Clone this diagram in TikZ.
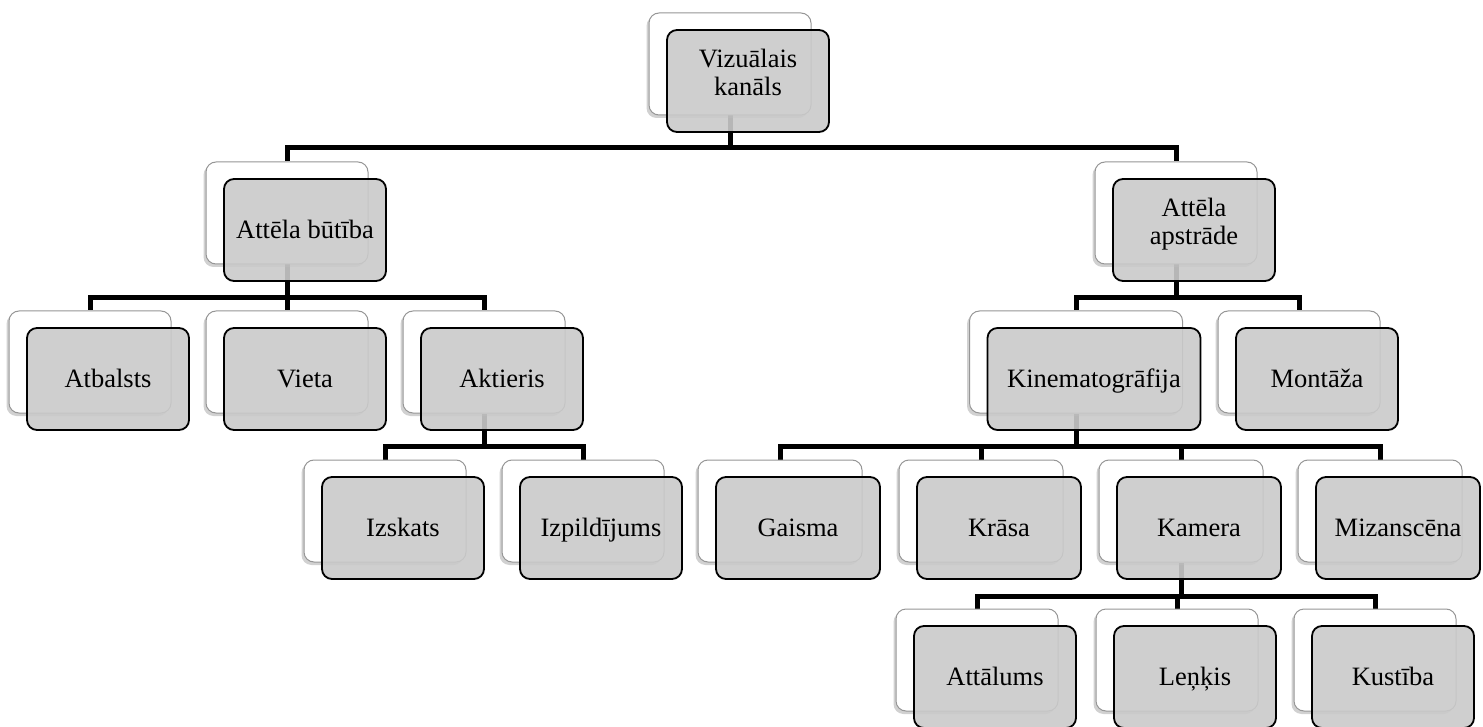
\documentclass[tikz,border=0pt]{standalone}
\usepackage{fontspec}
\setmainfont{Liberation Serif}
\usepackage{xcolor}
\usepackage{tikz}
\usetikzlibrary{calc, shadows, backgrounds}
\definecolor{boxgrey}{RGB}{202, 202, 202}
\definecolor{backline}{RGB}{150, 150, 150}

\begin{document}
\begin{tikzpicture}[
    x=1pt, y=-1pt,
    font=\fontsize{26.5}{28}\selectfont,
    backbox/.style={draw=backline, fill=white, line width=1pt, rounded corners=10pt, minimum height=102pt, inner sep=0pt,
        drop shadow={shadow xshift=-2.5pt, shadow yshift=-3pt, opacity=0.3, fill=black!60}},
    frontbox/.style={draw=black, fill=boxgrey, fill opacity=0.9, text opacity=1, line width=1.8pt, rounded corners=10pt, minimum height=102pt, inner sep=0pt, align=center},
    oneline/.style={text height=20pt, text depth=3pt},
    twoline/.style={text height=29pt, text depth=0pt},
    conn/.style={draw=black, line width=5pt}
]
    \useasboundingbox (0,0) rectangle (1483,727);

    % boxes: name / x / y / width / lines / text
    \foreach \n/\x/\y/\w/\s/\t in {
        viz/730/64/162/twoline/{Vizuālais\\kanāls},
        butiba/287/213/162/oneline/{Attēla būtība},
        apstr/1176/213/162/twoline/{Attēla\\apstrāde},
        atb/90/362/162/oneline/Atbalsts,
        vieta/287/362/162/oneline/Vieta,
        akt/484/362/162/oneline/Aktieris,
        kino/1076/362/213/oneline/Kinematogrāfija,
        mont/1299/362/162/oneline/Montāža,
        izsk/385/511/162/oneline/Izskats,
        izp/583/511/162/oneline/Izpildījums,
        gais/780/511/164/oneline/Gaisma,
        krasa/981/511/164/oneline/Krāsa,
        kam/1181/511/164/oneline/Kamera,
        miz/1380/511/164/oneline/Mizanscēna,
        att/977/660/162/oneline/Attālums,
        lenk/1177/660/162/oneline/Leņķis,
        kust/1375/660/162/oneline/Kustība}
    {
        \node[backbox, minimum width=\w pt] (\n-b) at (\x,\y) {};
        \node[frontbox, \s, minimum width=\w pt] (\n) at ([shift={(18,17)}]\n-b) {\t};
    }

    \begin{scope}[on background layer]
        \draw[conn] (viz-b.south) -- ++(0,32) -| (butiba-b.north);
        \draw[conn] (viz-b.south) -- ++(0,32) -| (apstr-b.north);

        \draw[conn] (butiba-b.south) -- ++(0,33) -| (atb-b.north);
        \draw[conn] (butiba-b.south) -- (vieta-b.north);
        \draw[conn] (butiba-b.south) -- ++(0,33) -| (akt-b.north);

        \draw[conn] (akt-b.south) -- ++(0,33) -| (izsk-b.north);
        \draw[conn] (akt-b.south) -- ++(0,33) -| (izp-b.north);

        \draw[conn] (apstr-b.south) -- ++(0,33) -| (kino-b.north);
        \draw[conn] (apstr-b.south) -- ++(0,33) -| (mont-b.north);

        \draw[conn] (kino-b.south) -- ++(0,33) -| (gais-b.north);
        \draw[conn] (kino-b.south) -- ++(0,33) -| (krasa-b.north);
        \draw[conn] (kino-b.south) -- ++(0,33) -| (kam-b.north);
        \draw[conn] (kino-b.south) -- ++(0,33) -| (miz-b.north);

        \draw[conn] (kam-b.south) -- ++(0,34) -| (att-b.north);
        \draw[conn] (kam-b.south) -- ++(0,34) -| (lenk-b.north);
        \draw[conn] (kam-b.south) -- ++(0,34) -| (kust-b.north);
    \end{scope}
\end{tikzpicture}
\end{document}
